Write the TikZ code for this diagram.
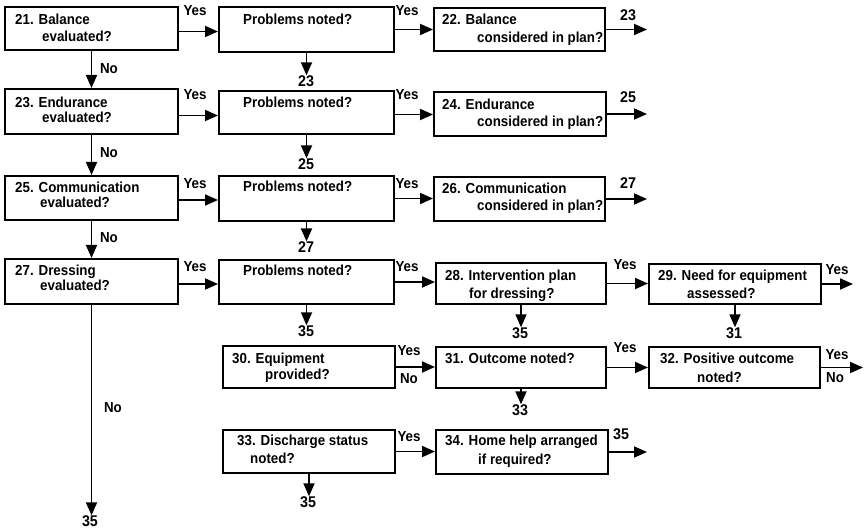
\documentclass[tikz,border=0pt]{standalone}
\usepackage{fontspec}
\setmainfont{Liberation Sans}[BoldFeatures={FakeStretch=0.92}]
\usetikzlibrary{arrows.meta}
\begin{document}
\begin{tikzpicture}[x=1pt,y=-1pt,
  box/.style={draw, line width=2pt, anchor=north west, inner sep=0pt},
  txt/.style={anchor=base west, inner sep=0pt, font=\fontsize{14.5}{17}\selectfont\bfseries},
  lab/.style={inner sep=0pt, font=\fontsize{14.5}{17}\selectfont\bfseries},
  num/.style={inner sep=0pt, font=\fontsize{15.5}{17}\selectfont\bfseries},
  arr/.style={line width=1.8pt, -{Triangle[length=13pt,width=11pt]}},
  ln/.style={line width=1.8pt}]
\useasboundingbox (0,0) rectangle (864,529);

% boxes
\node[box, minimum width=173pt, minimum height=43pt] (b21) at (4,6) {};
\node[box, minimum width=175pt, minimum height=45pt] (p1) at (218,6) {};
\node[box, minimum width=171pt, minimum height=43pt] (b22) at (433,7) {};
\node[box, minimum width=173pt, minimum height=45pt] (b23) at (4,88) {};
\node[box, minimum width=175pt, minimum height=43pt] (p2) at (218,90) {};
\node[box, minimum width=172pt, minimum height=44pt] (b24) at (433,91) {};
\node[box, minimum width=173pt, minimum height=44pt] (b25) at (4,175) {};
\node[box, minimum width=175pt, minimum height=45pt] (p3) at (218,175) {};
\node[box, minimum width=171pt, minimum height=44pt] (b26) at (433,176) {};
\node[box, minimum width=173pt, minimum height=45pt] (b27) at (4,258) {};
\node[box, minimum width=175pt, minimum height=44pt] (p4) at (218,259) {};
\node[box, minimum width=170pt, minimum height=41pt] (b28) at (435,262) {};
\node[box, minimum width=172pt, minimum height=40pt] (b29) at (648,263) {};
\node[box, minimum width=172pt, minimum height=42pt] (b30) at (222,345) {};
\node[box, minimum width=170pt, minimum height=41pt] (b31) at (435,346) {};
\node[box, minimum width=171pt, minimum height=41pt] (b32) at (648,346) {};
\node[box, minimum width=172pt, minimum height=43pt] (b33) at (222,429) {};
\node[box, minimum width=172pt, minimum height=44pt] (b34) at (435,429) {};

% box texts
\node[txt] (t21a) at (15,25) {21. Balance};
\node[txt] (t21b) at (42,42) {evaluated?};
\node[txt] (tp1) at (243,25) {Problems noted?};
\node[txt] (t22a) at (442,25) {22. Balance};
\node[txt] (t22b) at (477,43) {considered in plan?};
\node[txt] (t23a) at (15,108) {23. Endurance};
\node[txt] (t23b) at (42,123) {evaluated?};
\node[txt] (tp2) at (243,108) {Problems noted?};
\node[txt] (t24a) at (442,110) {24. Endurance};
\node[txt] (t24b) at (477,127) {considered in plan?};
\node[txt] (t25a) at (15,193) {25. Communication};
\node[txt] (t25b) at (40,208) {evaluated?};
\node[txt] (tp3) at (243,192) {Problems noted?};
\node[txt] (t26a) at (442,194) {26. Communication};
\node[txt] (t26b) at (477,211) {considered in plan?};
\node[txt] (t27a) at (15,275) {27. Dressing};
\node[txt] (t27b) at (40,290) {evaluated?};
\node[txt] (tp4) at (243,275) {Problems noted?};
\node[txt] (t28a) at (445,280) {28. Intervention plan};
\node[txt] (t28b) at (469,298) {for dressing?};
\node[txt] (t29a) at (658,280) {29. Need for equipment};
\node[txt] (t29b) at (687,298) {assessed?};
\node[txt] (t30a) at (232,363) {30. Equipment};
\node[txt] (t30b) at (265,379) {provided?};
\node[txt] (t31a) at (445,363) {31. Outcome noted?};
\node[txt] (t32a) at (660,363) {32. Positive outcome};
\node[txt] (t32b) at (697,382) {noted?};
\node[txt] (t33a) at (237,445) {33. Discharge status};
\node[txt] (t33b) at (250,463) {noted?};
\node[txt] (t34a) at (445,445) {34. Home help arranged};
\node[txt] (t34b) at (478,464) {if required?};

% target labels
\node[num] (n23a) at (306,81) {23};
\node[num] (n25a) at (306,164) {25};
\node[num] (n27a) at (306,247) {27};
\node[num] (n35a) at (306,331) {35};
\node[num] (n35b) at (520,333) {35};
\node[num] (n31a) at (734,333) {31};
\node[num] (n33a) at (520,410) {33};
\node[num] (n35c) at (308,502) {35};
\node[num] (n35d) at (90,521) {35};
\node[num] (x23) at (628,15) {23};
\node[num] (x25) at (628,97) {25};
\node[num] (x27) at (628,183) {27};
\node[num] (x35) at (621,434) {35};

% free ends of exit arrows
\coordinate (e22) at (647,29);
\coordinate (e24) at (647,113);
\coordinate (e26) at (647,198);
\coordinate (e29) at (853,283);
\coordinate (e32) at (863,366);
\coordinate (e34) at (647,450);

% Yes / No labels
\node[lab] (y1a) at (195,11) {Yes};
\node[lab] (y1b) at (407,11) {Yes};
\node[lab] (y2a) at (195,95) {Yes};
\node[lab] (y2b) at (407,95) {Yes};
\node[lab] (y3a) at (195,184) {Yes};
\node[lab] (y3b) at (407,184) {Yes};
\node[lab] (y4a) at (195,267) {Yes};
\node[lab] (y4b) at (407,267) {Yes};
\node[lab] (y4c) at (625,265) {Yes};
\node[lab] (y4d) at (837,270) {Yes};
\node[lab] (y5a) at (409,351) {Yes};
\node[lab] (o5a) at (409,379) {No};
\node[lab] (y5b) at (625,348) {Yes};
\node[lab] (y5c) at (837,355) {Yes};
\node[lab] (o5c) at (835,378) {No};
\node[lab] (y6a) at (409,437) {Yes};
\node[lab] (o1) at (109,69) {No};
\node[lab] (o2) at (109,153) {No};
\node[lab] (o3) at (109,238) {No};
\node[lab] (o4) at (113,408) {No};

% row 1
\draw[arr] ([yshift=-3pt]b21.east) -- ([yshift=-3pt]b21.east -| p1.west);
\draw[arr] (p1.east) -- (p1.east -| b22.west);
\draw[arr] (b22.east) -- (b22.east -| e22);
\draw[arr] (p1.south) -- (p1.south |- n23a.north);
\draw[arr] (b21.south) -- (b23.north);
% row 2
\draw[arr] ([yshift=-4pt]b23.east) -- ([yshift=-4pt]b23.east -| p2.west);
\draw[arr] ([yshift=-2pt]p2.east) -- ([yshift=-2pt]p2.east -| b24.west);
\draw[arr] (b24.east) -- (b24.east -| e24);
\draw[arr] (p2.south) -- (p2.south |- n25a.north);
\draw[arr] (b23.south) -- (b25.north);
% row 3
\draw[arr] ([yshift=-2pt]b25.east) -- ([yshift=-2pt]b25.east -| p3.west);
\draw[arr] (p3.east) -- (p3.east -| b26.west);
\draw[arr] (b26.east) -- (b26.east -| e26);
\draw[arr] (p3.south) -- (p3.south |- n27a.north);
\draw[arr] (b25.south) -- (b27.north);
% row 4
\draw[arr] ([yshift=-2.5pt]b27.east) -- ([yshift=-2.5pt]b27.east -| p4.west);
\draw[arr] (p4.east) -- (p4.east -| b28.west);
\draw[arr] (b28.east) -- (b28.east -| b29.west);
\draw[arr] (b29.east) -- (b29.east -| e29);
\draw[arr] (p4.south) -- (p4.south |- n35a.north);
\draw[arr] (b28.south) -- (b28.south |- n35b.north);
\draw[arr] (b29.south) -- (b29.south |- n31a.north);
\draw[arr] (b27.south) -- (b27.south |- n35d.north);
% row 5
\draw[arr] (b30.east) -- (b30.east -| b31.west);
\draw[arr] (b31.east) -- (b31.east -| b32.west);
\draw[arr] (b32.east) -- (b32.east -| e32);
\draw[arr] (b31.south) -- (b31.south |- n33a.north);
% row 6
\draw[arr] (b33.east) -- (b33.east -| b34.west);
\draw[arr] (b34.east) -- (b34.east -| e34);
\draw[arr] (b33.south) -- (b33.south |- n35c.north);
\end{tikzpicture}
\end{document}
